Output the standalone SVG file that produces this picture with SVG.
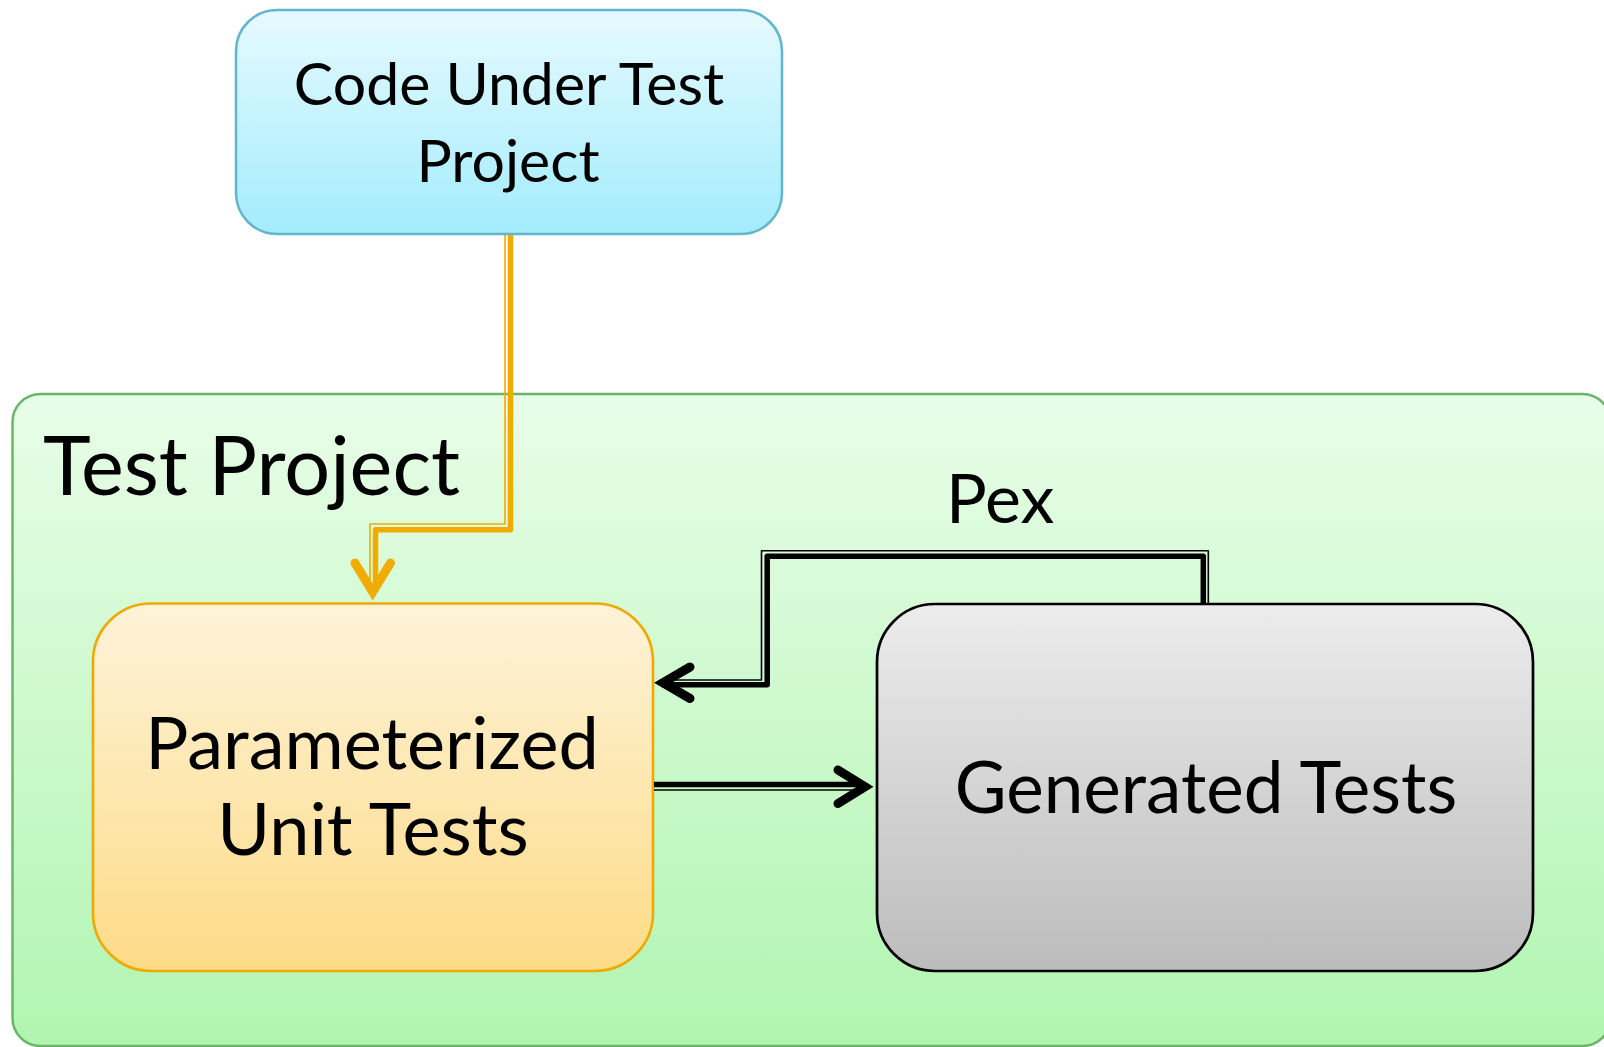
<svg xmlns="http://www.w3.org/2000/svg" width="1604" height="1047" viewBox="0 0 1604 1047">
<defs>
<linearGradient id="gCyan" x1="0" y1="0" x2="0" y2="1"><stop offset="0" stop-color="#e6faff"/><stop offset="1" stop-color="#a3ecfc"/></linearGradient>
<linearGradient id="gGreen" x1="0" y1="0" x2="0" y2="1"><stop offset="0" stop-color="#e8fde8"/><stop offset="1" stop-color="#b1f5b1"/></linearGradient>
<linearGradient id="gOrange" x1="0" y1="0" x2="0" y2="1"><stop offset="0" stop-color="#fef3d9"/><stop offset="1" stop-color="#fddb87"/></linearGradient>
<linearGradient id="gGray" x1="0" y1="0" x2="0" y2="1"><stop offset="0" stop-color="#ececec"/><stop offset="1" stop-color="#bcbcbc"/></linearGradient>
</defs>
<style>
text{font-family:Lato,"Liberation Sans",sans-serif;fill:#000;}
.thick{fill:none;stroke-width:5.5;stroke-linejoin:round;}
.thin{fill:none;stroke-width:1.6;stroke-linejoin:round;}
.arrow{fill:none;stroke-width:9;stroke-linecap:round;stroke-linejoin:miter;stroke-miterlimit:10;}
.or{stroke:#f0ac00;}
.bk{stroke:#000;}
</style>
<g id="test-project">
<rect x="12.5" y="394" width="1598" height="652" rx="28" ry="28" fill="url(#gGreen)" stroke="#6ab56a" stroke-width="2.5"/>
<text x="43" y="495" font-size="81">Test Project</text>
</g>
<g id="code-under-test">
<rect x="236" y="10" width="546" height="224" rx="41" ry="41" fill="url(#gCyan)" stroke="#62b5cc" stroke-width="2.5"/>
<text x="509" y="105" font-size="59" text-anchor="middle">Code Under Test</text>
<text x="508" y="182" font-size="59" text-anchor="middle">Project</text>
</g>
<g id="parameterized-unit-tests">
<rect x="93" y="603.5" width="560" height="367.5" rx="58" ry="58" fill="url(#gOrange)" stroke="#f0a900" stroke-width="2.6"/>
<text x="372" y="769" font-size="72" text-anchor="middle">Parameterized</text>
<text x="373" y="855" font-size="72" text-anchor="middle">Unit Tests</text>
</g>
<g id="generated-tests">
<rect x="877" y="604" width="656" height="367" rx="58" ry="58" fill="url(#gGray)" stroke="#000" stroke-width="2.7"/>
<text x="1206" y="813" font-size="71" text-anchor="middle">Generated Tests</text>
</g>
<g id="connectors">
<path class="thin or" d="M505,235 V524 H370 V592"/>
<path class="thick or" d="M510.5,235 V529.7 H375.5 V592"/>
<polyline class="arrow or" points="355,563 372.7,592 390.5,563"/>
<path class="thin bk" d="M1208.3,603 V550.7 H761.5 V680 H662"/>
<path class="thick bk" d="M1203.3,603 V556.3 H767.2 V684.7 H662"/>
<polyline class="arrow bk" points="690,667 663,682.7 690,698.5"/>
<path class="thick bk" d="M654,784.5 H864"/>
<path class="thin bk" d="M654,790 H856"/>
<polyline class="arrow bk" points="838,770 865,786.7 838,803.5"/>
<text x="946" y="523" font-size="68">Pex</text>
</g>
</svg>
